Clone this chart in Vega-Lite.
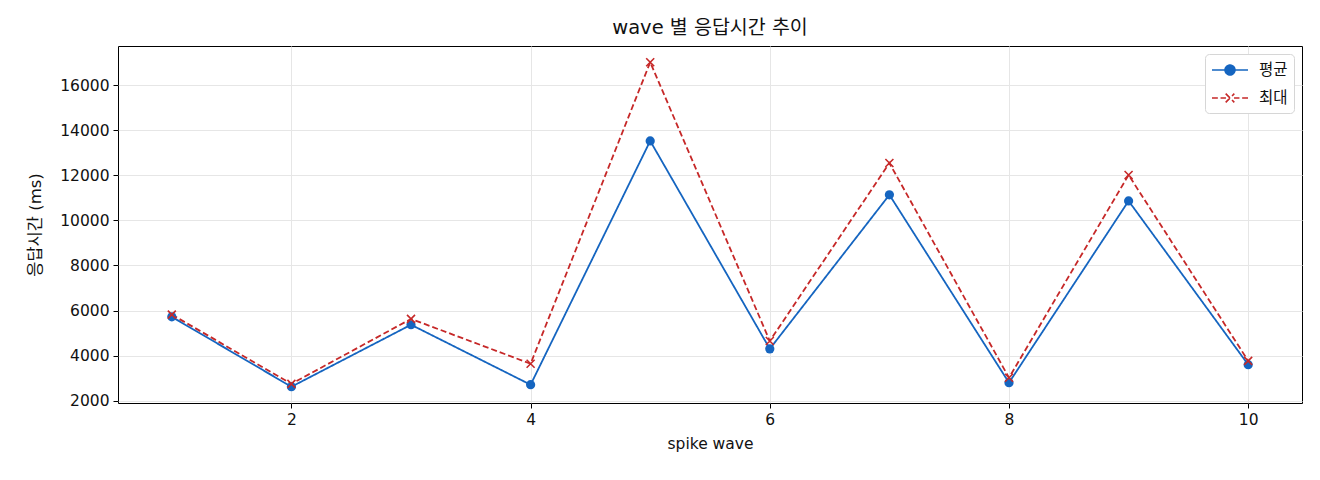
{
  "$schema": "https://vega.github.io/schema/vega-lite/v6.json",
  "autosize": "none",
  "width": 1184,
  "height": 357,
  "padding": {"left": 118, "top": 46, "right": 18, "bottom": 77},
  "background": "white",
  "title": {
    "text": "wave 별 응답시간 추이",
    "font": "DejaVu Sans, Noto Sans CJK KR",
    "fontSize": 19.5,
    "fontWeight": "normal",
    "color": "#111111",
    "offset": 8
  },
  "data": {
    "values": [
      {"wave": 1, "series": "평균", "ms": 5720},
      {"wave": 2, "series": "평균", "ms": 2620},
      {"wave": 3, "series": "평균", "ms": 5370},
      {"wave": 4, "series": "평균", "ms": 2710},
      {"wave": 5, "series": "평균", "ms": 13520},
      {"wave": 6, "series": "평균", "ms": 4300},
      {"wave": 7, "series": "평균", "ms": 11130},
      {"wave": 8, "series": "평균", "ms": 2800},
      {"wave": 9, "series": "평균", "ms": 10860},
      {"wave": 10, "series": "평균", "ms": 3600},
      {"wave": 1, "series": "최대", "ms": 5820},
      {"wave": 2, "series": "최대", "ms": 2750},
      {"wave": 3, "series": "최대", "ms": 5630},
      {"wave": 4, "series": "최대", "ms": 3640},
      {"wave": 5, "series": "최대", "ms": 17010},
      {"wave": 6, "series": "최대", "ms": 4650},
      {"wave": 7, "series": "최대", "ms": 12540},
      {"wave": 8, "series": "최대", "ms": 3020},
      {"wave": 9, "series": "최대", "ms": 12010},
      {"wave": 10, "series": "최대", "ms": 3770}
    ]
  },
  "encoding": {
    "x": {
      "field": "wave",
      "type": "quantitative",
      "title": "spike wave",
      "scale": {"domain": [0.55, 10.45], "nice": false, "zero": false},
      "axis": {"values": [2, 4, 6, 8, 10], "titlePadding": 9}
    },
    "y": {
      "field": "ms",
      "type": "quantitative",
      "title": "응답시간 (ms)",
      "scale": {"domain": [1900, 17730], "nice": false, "zero": false},
      "axis": {"values": [2000, 4000, 6000, 8000, 10000, 12000, 14000, 16000], "format": "d", "titlePadding": 16, "titleFontSize": 16.5}
    },
    "color": {
      "field": "series",
      "type": "nominal",
      "scale": {"domain": ["평균", "최대"], "range": ["#1565c0", "#c62828"]}
    }
  },
  "layer": [
    {
      "mark": {"type": "line", "strokeWidth": 1.8},
      "encoding": {
        "strokeDash": {
          "field": "series",
          "type": "nominal",
          "scale": {"domain": ["평균", "최대"], "range": [[1, 0], [6, 3]]},
          "legend": null
        },
        "color": {
          "field": "series",
          "type": "nominal",
          "scale": {"domain": ["평균", "최대"], "range": ["#1565c0", "#c62828"]},
          "legend": {
            "title": null,
            "orient": "top-right",
            "offset": 8,
            "padding": 6,
            "fillColor": "white",
            "strokeColor": "#d6d6d6",
            "cornerRadius": 4,
            "symbolSize": 324,
            "symbolOffset": 9,
            "symbolStrokeWidth": 1.6,
            "labelFont": "DejaVu Sans, Noto Sans CJK KR",
            "labelFontSize": 15.5,
            "labelColor": "#111111",
            "labelOffset": 19,
            "rowPadding": 9,
            "encode": {
              "symbols": {
                "update": {
                  "shape": {"signal": "datum.value === '평균' ? 'M-2,0H2M0.55,0A0.55,0.55 0 1,1 -0.55,0A0.55,0.55 0 1,1 0.55,0' : 'M-2,0H-1.35M-1.05,0H-0.45M0.45,0H1.05M1.35,0H2M-0.48,-0.48L0.48,0.48M-0.48,0.48L0.48,-0.48'"},
                  "fill": {"signal": "datum.value === '평균' ? '#1565c0' : 'transparent'"},
                  "strokeDash": {"value": []}
                }
              }
            }
          }
        }
      }
    },
    {
      "transform": [{"filter": "datum.series === '평균'"}],
      "mark": {"type": "point", "shape": "circle", "filled": true, "size": 85, "opacity": 1}
    },
    {
      "transform": [{"filter": "datum.series === '최대'"}],
      "mark": {"type": "point", "shape": "M-1,-1L1,1M-1,1L1,-1", "filled": false, "size": 64, "strokeWidth": 1.6, "opacity": 1}
    }
  ],
  "config": {
    "font": "DejaVu Sans, Noto Sans CJK KR",
    "view": {"stroke": "black", "strokeWidth": 1},
    "axis": {
      "labelFont": "DejaVu Sans",
      "labelFontSize": 15.5,
      "labelColor": "#111111",
      "titleFont": "DejaVu Sans, Noto Sans CJK KR",
      "titleFontSize": 15.5,
      "titleFontWeight": "normal",
      "titleColor": "#111111",
      "domain": false,
      "tickColor": "black",
      "tickSize": 5,
      "labelPadding": 4,
      "grid": true,
      "gridColor": "#e6e6e6",
      "gridWidth": 1
    }
  }
}
